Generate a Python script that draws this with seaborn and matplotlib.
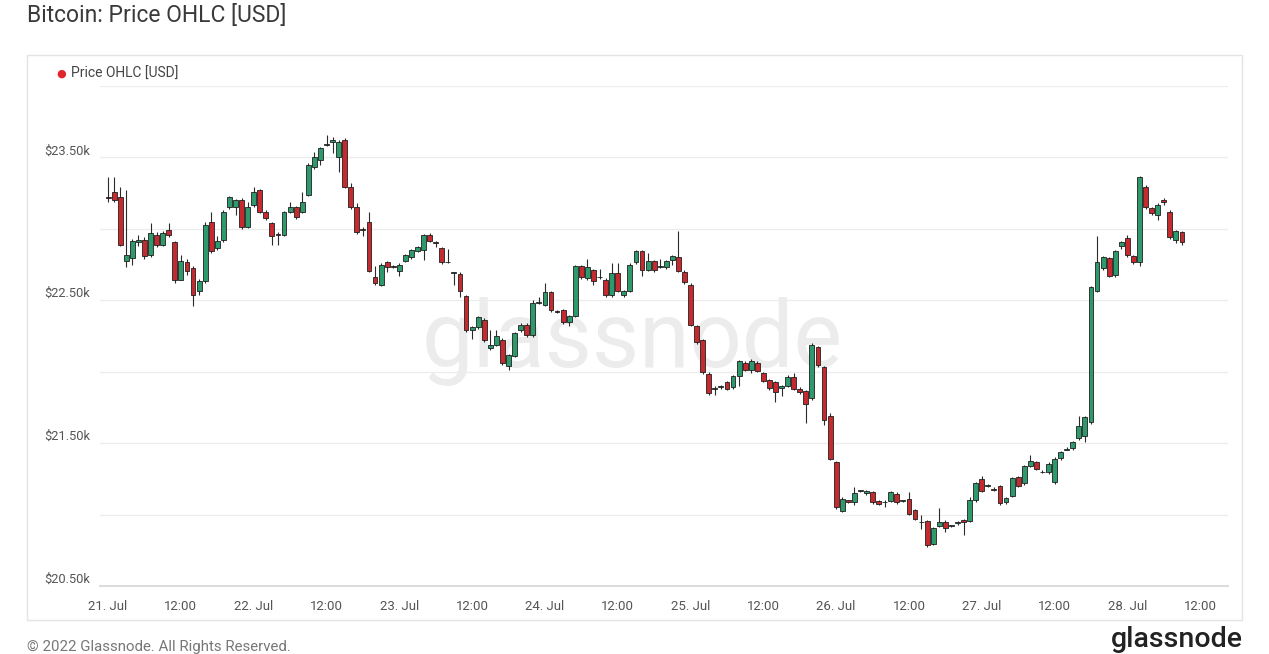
import numpy as np
import pandas as pd
import matplotlib
matplotlib.use("Agg")
import matplotlib.pyplot as plt
import matplotlib.dates as mdates
from matplotlib.patches import Rectangle
import seaborn as sns

# hourly candles, 21 Jul 2022 00:00 onwards
start_time = "2022-07-21 00:00"

opens = [23225, 23255, 23220, 22775, 22795, 22905, 22920, 22815, 22960, 22890,
         22990, 22905, 22645, 22765, 22725, 22565, 22635, 23050, 22865, 22920,
         23150, 23150, 23205, 23015, 23165, 23270, 23120, 23040, 22960, 22960,
         23120, 23150, 23120, 23240, 23435, 23485, 23590, 23605, 23500, 23625,
         23295, 23155, 23000, 23045, 22660, 22610, 22765, 22740, 22705, 22775,
         22800, 22845, 22855, 22960, 22910, 22865, 22770, 22690, 22685, 22530,
         22290, 22310, 22365, 22165, 22190, 22225, 22040, 22110, 22290, 22330,
         22255, 22480, 22470, 22555, 22425, 22430, 22345, 22390, 22740, 22655,
         22710, 22660, 22645, 22535, 22690, 22535, 22565, 22765, 22845, 22715,
         22775, 22735, 22730, 22780, 22800, 22695, 22610, 22320, 22220, 21985,
         21880, 21890, 21925, 21890, 21970, 22060, 22010, 22060, 21990, 21940,
         21925, 21885, 21900, 21960, 21880, 21865, 21815, 22170, 22030, 21690,
         21365, 21025, 21100, 21090, 21165, 21150, 21155, 21095, 21085, 21095,
         21145, 21095, 21110, 21030, 20950, 20955, 20795, 20920, 20950, 20920,
         20940, 20960, 20955, 21100, 21250, 21200, 21180, 21200, 21085, 21130,
         21260, 21220, 21340, 21365, 21300, 21295, 21225, 21395, 21455, 21465,
         21535, 21550, 21645, 22565, 22725, 22795, 22675, 22880, 22935, 22810,
         22765, 23295, 23145, 23095, 23205, 23120, 22925, 22975]

closes = [23215, 23205, 22890, 22815, 22915, 22925, 22810, 22970, 22890, 22970,
          22955, 22645, 22775, 22705, 22540, 22635, 23030, 22845, 22915, 23120,
          23220, 23200, 23010, 23155, 23260, 23120, 23075, 22950, 22955, 23115,
          23150, 23080, 23190, 23450, 23500, 23565, 23590, 23620, 23605, 23295,
          23150, 22975, 22990, 22705, 22620, 22750, 22730, 22735, 22750, 22815,
          22850, 22870, 22955, 22915, 22900, 22765, 22765, 22690, 22565, 22290,
          22310, 22380, 22220, 22190, 22250, 22060, 22115, 22270, 22330, 22255,
          22480, 22485, 22555, 22430, 22420, 22345, 22390, 22740, 22660, 22730,
          22635, 22660, 22535, 22690, 22565, 22565, 22750, 22845, 22715, 22775,
          22710, 22735, 22775, 22810, 22705, 22625, 22330, 22205, 21995, 21850,
          21885, 21900, 21880, 21970, 22075, 22015, 22075, 22005, 21935, 21885,
          21855, 21900, 21960, 21880, 21855, 21775, 22190, 22045, 21660, 21390,
          21050, 21110, 21090, 21150, 21165, 21165, 21085, 21075, 21090, 21155,
          21085, 21095, 21005, 20970, 20945, 20785, 20905, 20950, 20905, 20920,
          20940, 20950, 21100, 21220, 21165, 21200, 21175, 21080, 21115, 21255,
          21200, 21340, 21375, 21320, 21295, 21355, 21390, 21435, 21460, 21505,
          21620, 21680, 22590, 22765, 22800, 22670, 22845, 22905, 22815, 22765,
          23360, 23150, 23110, 23170, 23190, 22940, 22985, 22905]

highs = [23360, 23365, 23290, 23270, 22930, 22960, 22940, 23040, 22975, 22985,
         23040, 22915, 22820, 22790, 22740, 22650, 23045, 23120, 22950, 23130,
         23230, 23210, 23215, 23190, 23290, 23280, 23130, 23050, 22975, 23125,
         23190, 23160, 23260, 23460, 23540, 23575, 23660, 23640, 23620, 23635,
         23320, 23180, 23010, 23120, 22740, 22760, 22775, 22750, 22760, 22825,
         22860, 22880, 22965, 22970, 22915, 22875, 22860, 22700, 22695, 22540,
         22320, 22390, 22375, 22290, 22290, 22235, 22125, 22280, 22340, 22340,
         22500, 22520, 22620, 22565, 22435, 22440, 22400, 22750, 22750, 22790,
         22720, 22720, 22655, 22760, 22760, 22575, 22760, 22855, 22855, 22830,
         22785, 22790, 22785, 22820, 22985, 22710, 22620, 22330, 22230, 21995,
         21900, 21910, 21935, 21980, 22085, 22075, 22090, 22075, 22000, 21950,
         21935, 21910, 21975, 21990, 21890, 21875, 22200, 22180, 22040, 21710,
         21375, 21120, 21105, 21190, 21175, 21175, 21165, 21100, 21100, 21165,
         21155, 21105, 21160, 21040, 21000, 20965, 20915, 21045, 20960, 20930,
         20955, 20970, 21120, 21230, 21270, 21215, 21190, 21210, 21125, 21265,
         21270, 21350, 21420, 21375, 21310, 21365, 21400, 21445, 21470, 21515,
         21690, 21690, 22600, 22950, 22810, 22805, 22855, 22915, 22960, 22820,
         23370, 23305, 23155, 23180, 23215, 23130, 22995, 22985]

lows = [23190, 23190, 22880, 22730, 22750, 22880, 22790, 22800, 22870, 22880,
        22945, 22620, 22640, 22680, 22460, 22540, 22620, 22830, 22850, 22905,
        23140, 23100, 23000, 23005, 23150, 23110, 23065, 22890, 22890, 22950,
        23110, 23070, 23110, 23230, 23420, 23450, 23580, 23530, 23400, 23285,
        23140, 22965, 22950, 22695, 22610, 22600, 22700, 22725, 22670, 22765,
        22790, 22835, 22780, 22905, 22870, 22755, 22760, 22610, 22520, 22280,
        22230, 22300, 22210, 22150, 22180, 22050, 22010, 22100, 22280, 22245,
        22245, 22475, 22460, 22420, 22410, 22335, 22320, 22380, 22650, 22645,
        22610, 22650, 22525, 22525, 22555, 22520, 22555, 22755, 22670, 22705,
        22700, 22725, 22720, 22745, 22695, 22615, 22320, 22195, 21985, 21840,
        21840, 21880, 21870, 21880, 21900, 22005, 21990, 21995, 21925, 21870,
        21790, 21830, 21890, 21870, 21845, 21640, 21805, 22035, 21630, 21380,
        21040, 21015, 21080, 21070, 21155, 21140, 21075, 21065, 21050, 21085,
        21075, 21085, 20995, 20960, 20900, 20775, 20785, 20910, 20880, 20910,
        20930, 20860, 20945, 21090, 21155, 21190, 21165, 21070, 21075, 21120,
        21190, 21210, 21330, 21310, 21290, 21285, 21215, 21385, 21450, 21455,
        21525, 21510, 21635, 22555, 22715, 22660, 22665, 22860, 22805, 22755,
        22740, 23140, 23100, 23060, 23165, 22930, 22900, 22890]

tick_times = pd.date_range("2022-07-21 00:00", "2022-07-28 12:00", freq="12h")
tick_labels = [t.strftime("%d. %b") if t.hour == 0 else "12:00" for t in tick_times]
price_ticks = [20500, 21000, 21500, 22000, 22500, 23000, 23500, 24000]
price_labels = ["$20.50k", "", "$21.50k", "", "$22.50k", "", "$23.50k", ""]

UP = "#2e9a6b"
DOWN = "#c42a2e"

df = pd.DataFrame({
    "time": pd.date_range(start_time, periods=len(opens), freq="h"),
    "open": opens, "high": highs, "low": lows, "close": closes,
})
df["x"] = mdates.date2num(df["time"])
df["up"] = df["close"] >= df["open"]
df["body_low"] = df[["open", "close"]].min(axis=1)
df["body_h"] = (df["close"] - df["open"]).abs().clip(lower=6)

sns.set_theme(style="white")
plt.rcParams["font.family"] = ["Roboto", "DejaVu Sans"]

W, H = 1269, 654
fig = plt.figure(figsize=(W / 100, H / 100), dpi=100)
ax = fig.add_axes([100 / W, 1 - 586 / H, 1128 / W, 500 / H])

# outer panel border
fig.patches.append(Rectangle((27 / W, 1 - 620 / H), 1215 / W, 565 / H,
                             transform=fig.transFigure, fill=False,
                             edgecolor="#e4e4e4", linewidth=1.0))

# watermark
ax.text(0.472, 0.49, "glassnode", transform=ax.transAxes, ha="center",
        va="center", fontsize=66, color="#ececec", zorder=0,
        family=["Roboto", "DejaVu Sans"])

ax.vlines(df["x"], df["low"], df["high"], color="#2b2b2b", linewidth=0.8, zorder=2)
ax.bar(df["x"], df["body_h"], bottom=df["body_low"], width=0.8 / 24,
       color=np.where(df["up"], UP, DOWN), edgecolor="#1f1f1f",
       linewidth=0.6, zorder=3)

ax.set_ylim(20500, 24000)
ax.set_xlim(mdates.date2num(pd.Timestamp("2022-07-20 22:40")),
            mdates.date2num(pd.Timestamp("2022-07-28 16:35")))
ax.set_yticks(price_ticks)
ax.set_yticklabels(price_labels, fontsize=9.3, color="#555555")
for lab in ax.get_yticklabels():
    lab.set_verticalalignment("bottom")
ax.set_xticks(mdates.date2num(tick_times))
ax.set_xticklabels(tick_labels, fontsize=9.5, color="#555555")
ax.tick_params(axis="both", length=0)
ax.tick_params(axis="y", pad=7)
ax.tick_params(axis="x", pad=10)
ax.grid(axis="y", color="#ececec", linewidth=0.9)
ax.set_axisbelow(True)
sns.despine(ax=ax, left=True, top=True, right=True)
ax.spines["bottom"].set_color("#d6d6d6")

fig.text(27 / W, 1 - 16 / H, "Bitcoin: Price OHLC [USD]", fontsize=16.5,
         color="#3a3a3a", va="center", ha="left")
fig.text(56 / W, 1 - 74 / H, "\u25cf", fontsize=8, color="#e0262b",
         va="center", ha="left", family=["DejaVu Sans"])
fig.text(71 / W, 1 - 74 / H, "Price OHLC [USD]", fontsize=10,
         color="#444444", va="center", ha="left")
fig.text(27 / W, 1 - 640 / H, "\u00a9 2022 Glassnode. All Rights Reserved.",
         fontsize=10.8, color="#777777", va="top", ha="left")
fig.text(1243 / W, 1 - 626 / H, "glassnode", fontsize=20.5, color="#222222",
         va="top", ha="right", weight="medium")

fig.savefig("out.png", dpi=100)
